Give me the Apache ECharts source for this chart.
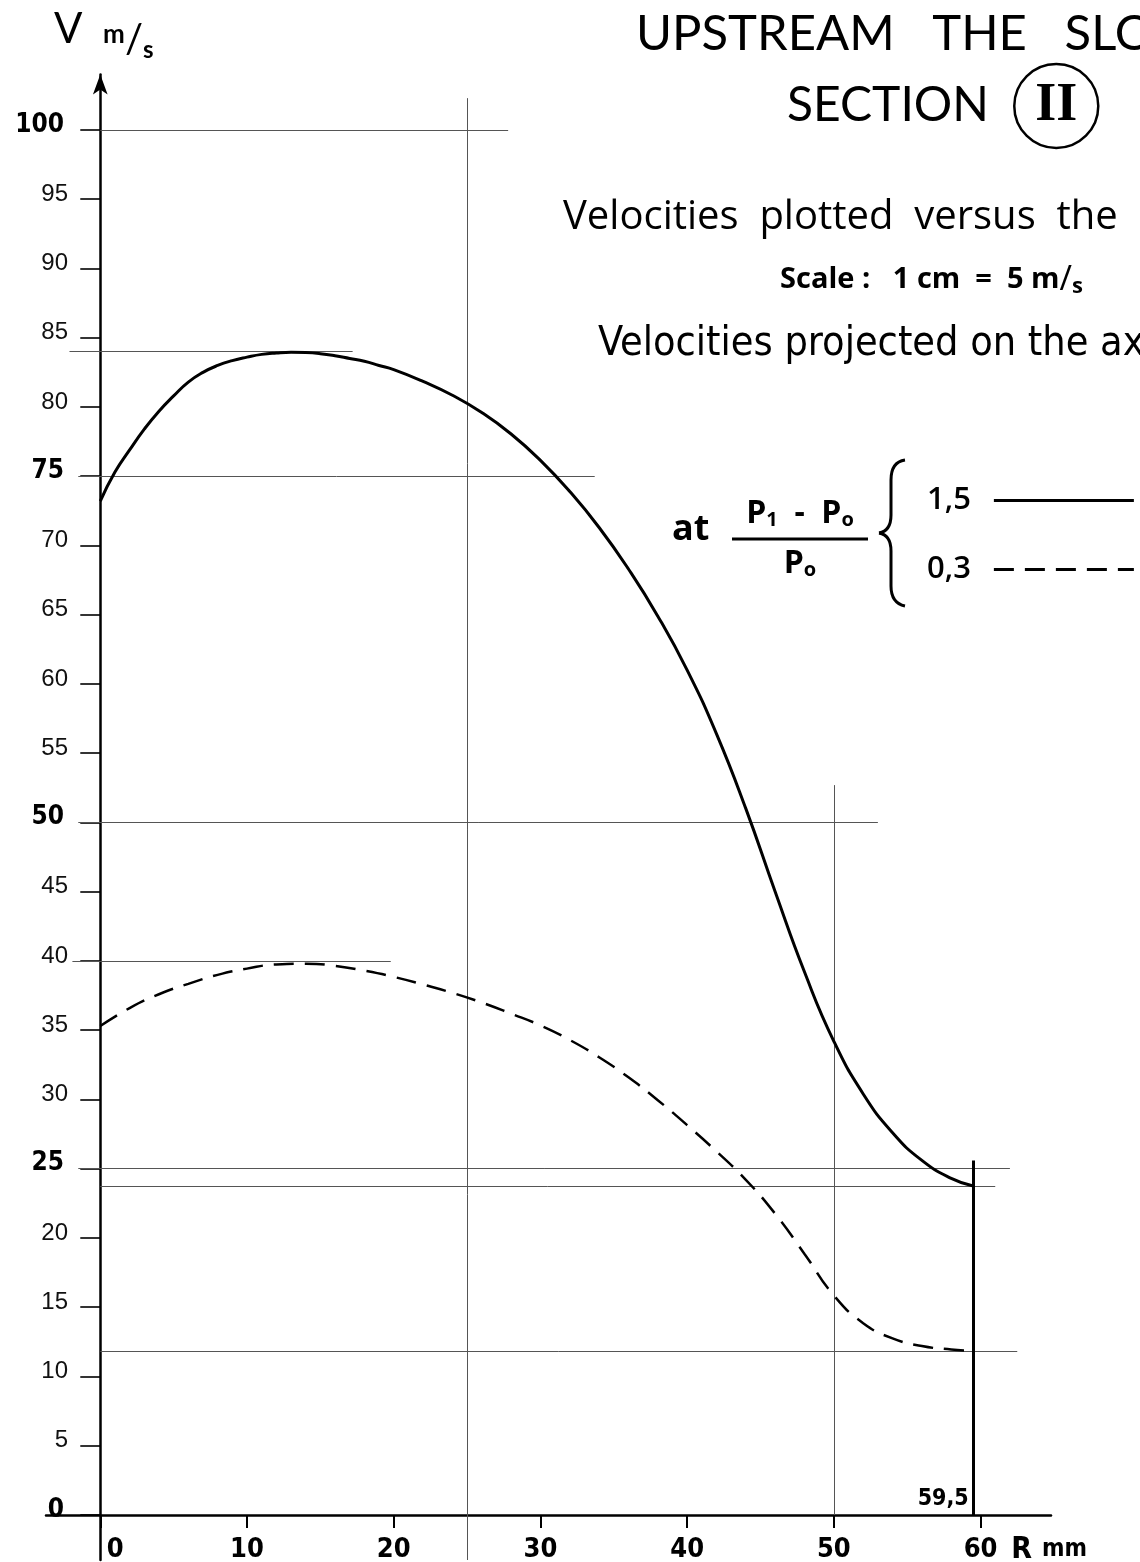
<!DOCTYPE html>
<html>
<head>
<meta charset="utf-8">
<script src="https://cdn.jsdelivr.net/npm/echarts@6/dist/echarts.min.js"></script>
<style>
html,body{margin:0;padding:0;background:#fff;}
#chart{width:1140px;height:1562px;}
</style>
</head>
<body>
<div id="chart"></div>
<script>
// ---- data ----
const xTicks = [0, 10, 20, 30, 40, 50, 60];
const yTicks = [0, 5, 10, 15, 20, 25, 30, 35, 40, 45, 50, 55, 60, 65, 70, 75, 80, 85, 90, 95, 100];
const boldTicks = [0, 25, 50, 75, 100];

// P1-P0 / P0 = 1,5 (solid)  — R (mm) vs V (m/s)
const rSolid = [0, 1, 2, 3, 4, 5, 6, 7, 8, 9, 10, 11, 12, 13, 14, 15, 16, 17, 18, 19, 20, 22, 24, 26, 28, 30, 32, 34, 36, 38, 40, 42, 44, 46, 48, 50, 52, 54, 56, 58, 59.5];
const vSolid = [73.2, 75.3, 76.9, 78.4, 79.7, 80.8, 81.8, 82.5, 83.0, 83.35, 83.6, 83.8, 83.9, 83.95, 83.93, 83.85, 83.7, 83.5, 83.3, 83.0, 82.7, 81.85, 80.85, 79.6, 78.05, 76.15, 73.9, 71.3, 68.3, 64.9, 61.0, 56.4, 51.0, 45.0, 39.2, 34.2, 30.4, 27.6, 25.6, 24.3, 23.75];

// P1-P0 / P0 = 0,3 (dashed)
const rDashed = [0, 2, 4, 6, 8, 10, 12, 14, 16, 18, 20, 22, 24, 26, 28, 30, 32, 34, 36, 38, 40, 42, 44, 46, 48, 50, 52, 54, 56, 58, 59.5];
const vDashed = [35.3, 36.6, 37.6, 38.35, 39.0, 39.45, 39.75, 39.8, 39.65, 39.3, 38.85, 38.3, 37.7, 37.0, 36.2, 35.35, 34.3, 33.05, 31.6, 29.95, 28.15, 26.25, 24.2, 21.75, 18.85, 15.85, 13.85, 12.75, 12.2, 11.95, 11.85];

// construction lines (value space)
const hRefV    = [100, 84, 75, 50, 40, 25, 23.7, 11.8];
const hRefFrom = [0, -2.1, -1.5, -1.5, -1.9, -1.5, 0, 0];
const hRefTo   = [27.8, 17.2, 33.7, 53.0, 19.8, 62.0, 61.0, 62.5];
const vRefR    = [25, 50];
const vRefFrom = [-3.25, 0];
const vRefTo   = [102.3, 52.7];
const endR = 59.5, endTop = 25.6;

const seriesNames = ['1,5', '0,3'];

// ---- chart ----
const chart = echarts.init(document.getElementById('chart'), null, {renderer: 'canvas'});
const pair = (xs, ys) => xs.map((x, i) => [x, ys[i]]);
const FONT_T = "Lato, 'Open Sans', sans-serif";
const FONT_O = "'Open Sans', sans-serif";
const FONT_N = "'Liberation Sans', 'DejaVu Sans', sans-serif";
const FONT_NB = "'DejaVu Sans Condensed', 'DejaVu Sans', sans-serif";

const hLines = hRefV.map((v, i) => [{coord: [hRefFrom[i], v]}, {coord: [hRefTo[i], v]}]);
const vLines = vRefR.map((r, i) => [{coord: [r, vRefFrom[i]]}, {coord: [r, vRefTo[i]]}]);

const braceStyle = {stroke: '#000', lineWidth: 3, fill: null};
const brace = [
  {type: 'bezierCurve', shape: {x1: 905, y1: 460, cpx1: 891, cpy1: 462, x2: 891, y2: 480}, style: braceStyle},
  {type: 'line', shape: {x1: 891, y1: 480, x2: 891, y2: 515}, style: braceStyle},
  {type: 'bezierCurve', shape: {x1: 891, y1: 515, cpx1: 891, cpy1: 531, x2: 879, y2: 533}, style: braceStyle},
  {type: 'bezierCurve', shape: {x1: 879, y1: 533, cpx1: 891, cpy1: 535, x2: 891, y2: 551}, style: braceStyle},
  {type: 'line', shape: {x1: 891, y1: 551, x2: 891, y2: 586}, style: braceStyle},
  {type: 'bezierCurve', shape: {x1: 891, y1: 586, cpx1: 891, cpy1: 603, x2: 905, y2: 606}, style: braceStyle}
];

const option = {
  backgroundColor: '#fff',
  animation: false,
  grid: {left: 46, top: 74.6, width: 1005, height: 1485.4, containLabel: false, outerBoundsMode: 'none'},
  xAxis: {
    type: 'value', min: -3.7, max: 64.8,
    axisLine: {show: true, onZero: true, lineStyle: {color: '#000', width: 2.5}},
    axisTick: {show: true, customValues: xTicks, length: 13, lineStyle: {color: '#000', width: 2}},
    axisLabel: {
      show: true, customValues: xTicks, margin: -24,
      formatter: v => v === 0 ? '{z|0}' : '{x|' + v + '}',
      rich: {
        x: {fontSize: 27, fontWeight: 'bold', fontFamily: FONT_NB, color: '#000'},
        z: {fontSize: 27, fontWeight: 'bold', fontFamily: FONT_NB, color: '#000', padding: [0, 0, 0, 30]}
      }
    },
    splitLine: {show: false},
    name: '{R|R}{mm|mm}', nameLocation: 'end', nameGap: 36,
    nameTextStyle: {
      align: 'right', verticalAlign: 'top', padding: [20, 0, 0, 0],
      rich: {
        R: {fontSize: 30, fontWeight: 'bold', fontFamily: FONT_NB, color: '#000'},
        mm: {fontSize: 24, fontWeight: 'bold', fontFamily: FONT_NB, color: '#000', padding: [0, 0, 0, 10]}
      }
    }
  },
  yAxis: {
    type: 'value', min: -3.25, max: 104,
    axisLine: {show: true, onZero: true, symbol: ['none', 'arrow'], symbolSize: [11, 20], lineStyle: {color: '#000', width: 2.5}},
    axisTick: {show: true, customValues: yTicks, length: 20, lineStyle: {color: '#000', width: 1.6}},
    axisLabel: {
      show: true, customValues: yTicks, margin: -22, padding: [0, 0, 10, 0],
      formatter: v => boldTicks.indexOf(v) >= 0 ? '{b|' + v + '}' : '{n|' + v + '}',
      rich: {
        b: {fontSize: 26, fontWeight: 'bold', fontFamily: FONT_NB, color: '#000', padding: [0, 4, 0, 0]},
        n: {fontSize: 24, fontFamily: FONT_N, color: '#111'}
      }
    },
    splitLine: {show: false}
  },
  legend: {
    data: seriesNames, orient: 'vertical', left: 922, top: 480,
    align: 'right', itemWidth: 140, itemHeight: 26, itemGap: 38,
    textStyle: {fontSize: 31, fontFamily: FONT_O, fontWeight: 600, color: '#000', padding: [0, 18, 0, 0]},
    itemStyle: {color: 'rgba(0,0,0,0)', borderWidth: 0, opacity: 0},
    lineStyle: {width: 3, color: '#000'},
    selectedMode: false
  },
  graphic: [
    {type: 'text', x: 54, y: 8, style: {
      text: '{V|V}  {u|m}{sl|/}{s|s}',
      rich: {
        V: {fontSize: 42, fontFamily: FONT_T, fill: '#000', verticalAlign: 'top'},
        u: {fontSize: 26, fontFamily: FONT_T, fontWeight: 'bold', fill: '#000', verticalAlign: 'top', padding: [14, 0, 0, 14]},
        sl: {fontSize: 40, fontFamily: FONT_T, fill: '#000', verticalAlign: 'top', padding: [12, 0, 0, 0]},
        s: {fontSize: 24, fontFamily: FONT_T, fontWeight: 'bold', fill: '#000', verticalAlign: 'top', padding: [30, 0, 0, 0]}
      }}},
    {type: 'text', x: 636, y: 34, style: {text: 'UPSTREAM   THE   SLOT', fontSize: 49, fontFamily: FONT_T, fill: '#000', verticalAlign: 'middle'}},
    {type: 'text', x: 787, y: 106, style: {
      text: '{t|SECTION} {c|II}',
      rich: {
        t: {fontSize: 48, fontFamily: FONT_T, fill: '#000', verticalAlign: 'middle', padding: [0, 22, 0, 0]},
        c: {fontSize: 54, fontFamily: "'Liberation Serif', serif", fontWeight: 'bold', fill: '#000',
            width: 84, height: 84, lineHeight: 84, align: 'center', verticalAlign: 'middle',
            borderColor: '#000', borderWidth: 2.5, borderRadius: 42}
      }, verticalAlign: 'middle'}},
    {type: 'text', x: 563, y: 218, style: {text: 'Velocities  plotted  versus  the', fontSize: 40, fontFamily: FONT_O, fill: '#000', verticalAlign: 'middle'}},
    {type: 'text', x: 780, y: 280, style: {
      text: '{a|Scale :   1 cm  =  5 m}{sl|/}{s|s}',
      rich: {
        a: {fontSize: 29, fontFamily: FONT_O, fontWeight: 'bold', fill: '#000'},
        sl: {fontSize: 34, fontFamily: FONT_O, fill: '#000'},
        s: {fontSize: 22, fontFamily: FONT_O, fontWeight: 'bold', fill: '#000', padding: [14, 0, 0, 0]}
      }, verticalAlign: 'middle'}},
    {type: 'text', x: 598, y: 344, style: {text: 'Velocities projected on the axis', fontSize: 41, fontFamily: "'DejaVu Sans Condensed', 'Open Sans', sans-serif", fill: '#000', verticalAlign: 'middle'}},
    {type: 'text', x: 672, y: 530, style: {text: 'at', fontSize: 36, fontFamily: FONT_O, fontWeight: 'bold', fill: '#000', verticalAlign: 'middle'}},
    {type: 'text', x: 800, y: 498, style: {
      text: '{P|P}{sub|1}{P|  -  P}{sub|o}\n{bar|}\n{P|P}{sub|o}',
      align: 'center', verticalAlign: 'top',
      rich: {
        P: {fontSize: 32, fontFamily: FONT_O, fontWeight: 'bold', fill: '#000', lineHeight: 32},
        sub: {fontSize: 20, fontFamily: FONT_O, fontWeight: 'bold', fill: '#000', lineHeight: 32, padding: [12, 0, 0, 0]},
        bar: {width: 136, height: 3, backgroundColor: '#000', lineHeight: 18}
      }}}
  ].concat(brace),
  series: [
    {
      name: seriesNames[0], type: 'line', data: pair(rSolid, vSolid),
      smooth: 0.5, showSymbol: false, symbol: 'none',
      lineStyle: {color: '#000', width: 3},
      itemStyle: {color: '#000'}, silent: true, z: 5
    },
    {
      name: seriesNames[1], type: 'line', data: pair(rDashed, vDashed),
      smooth: 0.5, showSymbol: false, symbol: 'none',
      lineStyle: {color: '#000', width: 2.5, type: [20, 11]},
      itemStyle: {color: '#000'}, silent: true, z: 5
    },
    {
      name: 'construction', type: 'line', data: [], silent: true, z: 2,
      markLine: {
        silent: true, symbol: ['none', 'none'], label: {show: false},
        lineStyle: {color: '#555', width: 1, type: 'solid'},
        data: hLines.concat(vLines).concat([
          [{coord: [endR, 0], lineStyle: {color: '#000', width: 3}}, {coord: [endR, endTop]}]
        ])
      },
      markPoint: {
        silent: true, symbol: 'circle', symbolSize: 1,
        itemStyle: {color: 'rgba(0,0,0,0)'},
        label: {show: true, position: [-4, -4], align: 'right', verticalAlign: 'bottom',
          fontSize: 23, fontWeight: 'bold', fontFamily: FONT_NB, color: '#000', formatter: '59,5'},
        data: [{coord: [endR, 0]}]
      }
    }
  ]
};
chart.setOption(option);
</script>
</body>
</html>
